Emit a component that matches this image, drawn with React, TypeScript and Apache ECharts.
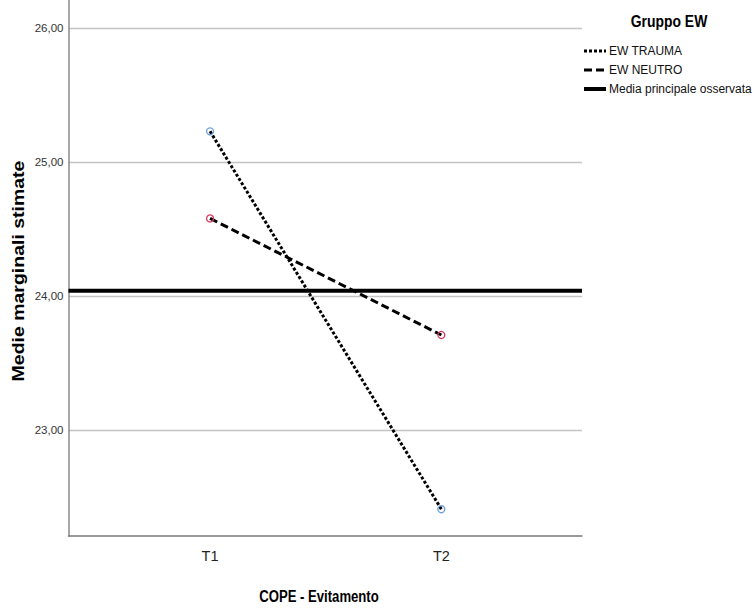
import React, { useEffect, useRef } from "react";
import * as echarts from "echarts";

const categories = ["T1", "T2"];
const trauma = [25.23, 22.41];
const neutro = [24.58, 23.71];
const meanValue = 24.04;
const yTicks = [23, 24, 25, 26];
const legendNames = ["EW TRAUMA", "EW NEUTRO", "Media principale osservata"];

const SANS = "'Liberation Sans', Arial, sans-serif";
const SQ = 0.82;

const X_MIN = -0.612;
const X_MAX = 1.608;

export default function App() {
  const ref = useRef<HTMLDivElement>(null);
  useEffect(() => {
    if (!ref.current) return;
    const chart = echarts.init(ref.current, null, { renderer: "svg" });
    const legendY = [51, 70, 89];
    const dashes: any[] = [[3, 2], [8, 4], null];
    const legendGraphics: any[] = [
      {
        type: "text",
        x: 669,
        y: 21,
        scaleX: SQ,
        style: {
          text: "Gruppo EW",
          fill: "#000",
          font: `bold 17px ${SANS}`,
          align: "center",
          verticalAlign: "middle",
        },
      },
    ];
    legendNames.forEach((n, i) => {
      legendGraphics.push({
        type: "line",
        shape: { x1: 584, y1: legendY[i], x2: 606, y2: legendY[i] },
        style: {
          stroke: "#000",
          lineWidth: i === 2 ? 4 : 3,
          lineDash: dashes[i] || undefined,
        },
      });
      legendGraphics.push({
        type: "text",
        x: 609,
        y: legendY[i],
        style: {
          text: n,
          fill: "#111",
          font: `12px ${SANS}`,
          align: "left",
          verticalAlign: "middle",
        },
      });
    });
    const option: any = {
      animation: false,
      backgroundColor: "#fff",
      grid: { left: 68.5, right: 172, top: 0, bottom: 72, containLabel: false },
      xAxis: {
        type: "value",
        min: X_MIN,
        max: X_MAX,
        axisLine: { show: true, onZero: false, lineStyle: { color: "#7a7a7a", width: 1.5 } },
        axisTick: { show: false },
        splitLine: { show: false },
        axisLabel: {
          customValues: [0, 1],
          formatter: (v: number) => categories[Math.round(v)] ?? "",
          color: "#222",
          fontFamily: SANS,
          fontSize: 14.5,
          margin: 12,
        },
      },
      yAxis: {
        type: "value",
        min: 22.21,
        max: 26.21,
        axisLine: { show: true, onZero: false, lineStyle: { color: "#8a8a8a", width: 1.5 } },
        axisTick: { show: false, customValues: yTicks },
        splitLine: { show: true, lineStyle: { color: "#c4c4c4", width: 1.3 } },
        axisLabel: {
          customValues: yTicks,
          formatter: (v: number) => v.toFixed(2).replace(".", ","),
          color: "#333",
          fontFamily: SANS,
          fontSize: 11.5,
          margin: 5,
        },
      },
      graphic: [
        {
          type: "text",
          x: 19,
          y: 271,
          rotation: Math.PI / 2,
          scaleY: 0.8,
          style: {
            text: "Medie marginali stimate",
            fill: "#000",
            font: `bold 19.5px ${SANS}`,
            align: "center",
            verticalAlign: "middle",
          },
        },
        {
          type: "text",
          x: 319,
          y: 597,
          scaleX: SQ,
          style: {
            text: "COPE - Evitamento",
            fill: "#000",
            font: `bold 16px ${SANS}`,
            align: "center",
            verticalAlign: "middle",
          },
        },
        ...legendGraphics,
      ],
      series: [
        {
          name: legendNames[2],
          type: "line",
          data: [
            [X_MIN, meanValue],
            [X_MAX, meanValue],
          ],
          symbol: "none",
          lineStyle: { color: "#000", width: 4 },
          z: 3,
        },
        {
          name: legendNames[0],
          type: "line",
          data: categories.map((c, i) => [i, trauma[i]]),
          symbol: "circle",
          symbolSize: 7,
          itemStyle: { color: "rgba(255,255,255,0)", borderColor: "#6b9fdb", borderWidth: 1.3 },
          lineStyle: { color: "#000", width: 3, type: [3, 2], cap: "butt" },
          z: 4,
        },
        {
          name: legendNames[1],
          type: "line",
          data: categories.map((c, i) => [i, neutro[i]]),
          symbol: "circle",
          symbolSize: 7,
          itemStyle: { color: "rgba(255,255,255,0)", borderColor: "#dc3a62", borderWidth: 1.3 },
          lineStyle: { color: "#000", width: 3, type: [8, 4], cap: "butt" },
          z: 4,
        },
      ],
    };
    chart.setOption(option);
    return () => chart.dispose();
  }, []);
  return <div ref={ref} style={{ width: 754, height: 608, position: "absolute", left: 0, top: 0 }} />;
}
